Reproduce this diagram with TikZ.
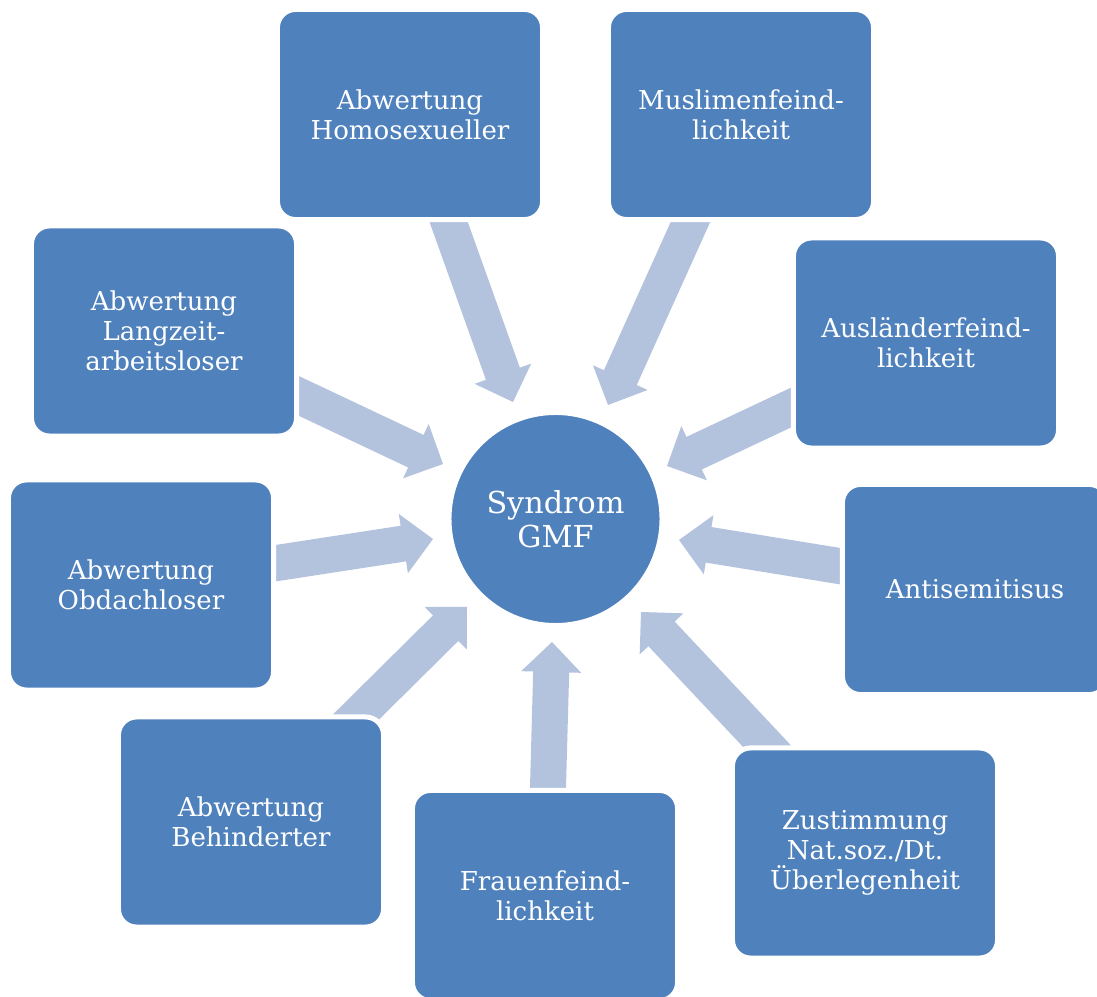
\documentclass[tikz,border=0pt]{standalone}
\usepackage{fontspec}
\setmainfont{DejaVu Serif}
\usetikzlibrary{calc}
\definecolor{gmfblau}{HTML}{4F81BD}
\definecolor{gmfhell}{HTML}{B3C3DE}
% Blockpfeil: #1 Schaftende, #2 Spitze
\newcommand{\blockpfeil}[2]{%
  \coordinate (H) at ($(#2)!0.75cm!(#1)$);
  \fill[gmfhell] ($(#1)!0.45cm!90:(#2)$) -- ($(H)!0.45cm!-90:(#1)$)
    -- ($(H)!0.75cm!-90:(#1)$) -- (#2) -- ($(H)!0.75cm!90:(#1)$)
    -- ($(H)!0.45cm!90:(#1)$) -- ($(#1)!0.45cm!-90:(#2)$) -- cycle;}

\begin{document}
\begin{tikzpicture}[x=0.025cm,y=-0.025cm,
  gmfbox/.style={rectangle, rounded corners=0.45cm, fill=gmfblau, draw=white,
    line width=0.125cm, minimum width=6.625cm, minimum height=5.25cm,
    text=white, align=center, font=\fontsize{18.5}{21.3}\selectfont},
  gmfkreis/.style={circle, fill=gmfblau, draw=white, line width=0.125cm,
    minimum size=5.325cm, text=white, align=center,
    font=\fontsize{21.5}{24}\selectfont}]
  \clip (0,0) rectangle (1097,997);
  % Pfeile zum Zentrum
  \foreach \n/\tx/\ty/\px/\py in {1/449/223/513/402, 2/690/223/608/405,
      3/790/408/667/466, 4/839/566/679/540, 5/765/744/641/612,
      6/548/787/552/642, 7/357/716/467/607, 8/277/563/433/539,
      9/299/396/443/464}{
    \coordinate (e\n) at (\tx,\ty);
    \coordinate (s\n) at (\px,\py);
    \coordinate (a\n) at ($(s\n)!1.3!(e\n)$);
    \blockpfeil{a\n}{s\n}
  }
  % Zentrum
  \node[gmfkreis] (gmf) at (555.5,519) {Syndrom\\GMF};
  % Kaesten
  \node[gmfbox] (homo) at (410,114.5) {Abwertung\\Homosexueller};
  \node[gmfbox] (musl) at (741,114.5) {Muslimenfeind-\\lichkeit};
  \node[gmfbox] (ausl) at (926,343) {Ausländerfeind-\\lichkeit};
  \node[gmfbox] (anti) at (975,589.5) {Antisemitisus};
  \node[gmfbox] (zust) at (865,853) {Zustimmung\\Nat.soz./Dt.\\Überlegenheit};
  \node[gmfbox] (frau) at (545,895.5) {Frauenfeind-\\lichkeit};
  \node[gmfbox] (behi) at (251,822) {Abwertung\\Behinderter};
  \node[gmfbox] (obda) at (141,585) {Abwertung\\Obdachloser};
  \node[gmfbox] (lang) at (164,331) {Abwertung\\Langzeit-\\arbeitsloser};
\end{tikzpicture}
\end{document}
